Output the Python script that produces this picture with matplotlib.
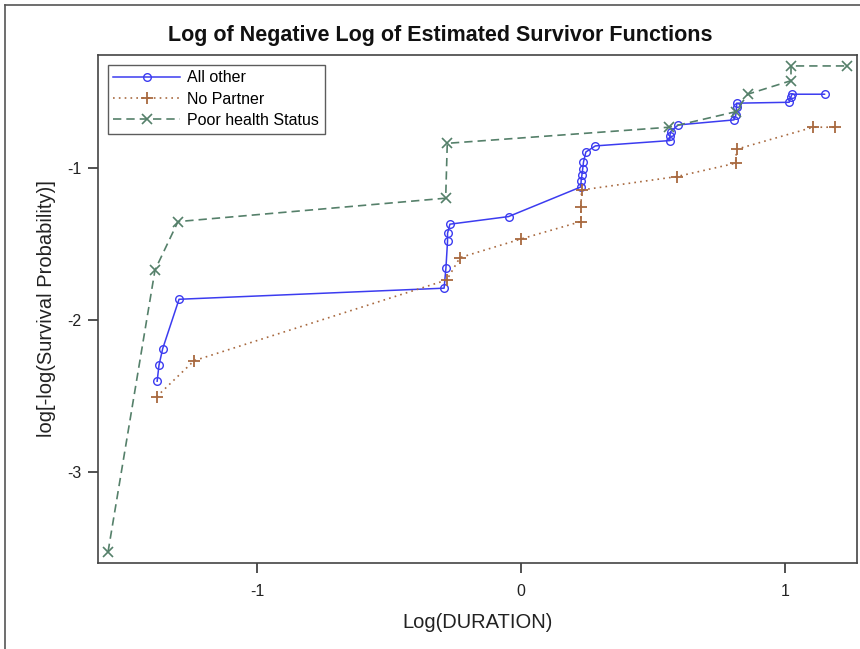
import matplotlib
matplotlib.use("Agg")
import matplotlib.pyplot as plt
from matplotlib.lines import Line2D

plt.rcParams['font.family'] = ['Liberation Sans', 'DejaVu Sans']
plt.rcParams['axes.unicode_minus'] = False

# log(duration) / log(-log(S))
other_x = [-1.378, -1.371, -1.357, -1.295, -0.291, -0.284, -0.278, -0.278, -0.269,
           -0.047, 0.227, 0.228, 0.231, 0.234, 0.237, 0.246, 0.282, 0.564, 0.564,
           0.567, 0.596, 0.807, 0.814, 0.817, 0.817, 1.016, 1.022, 1.027, 1.150]
other_y = [-2.403, -2.298, -2.189, -1.864, -1.791, -1.656, -1.482, -1.430, -1.370,
           -1.320, -1.125, -1.086, -1.046, -1.007, -0.961, -0.895, -0.855, -0.820, -0.789,
           -0.761, -0.717, -0.684, -0.651, -0.597, -0.574, -0.568, -0.535, -0.515, -0.515]

partner_x = [-1.380, -1.238, -0.281, -0.231, 0.001, 0.227, 0.227, 0.230,
             0.590, 0.813, 0.817, 1.107, 1.189]
partner_y = [-2.505, -2.268, -1.737, -1.590, -1.467, -1.353, -1.254, -1.145,
             -1.057, -0.969, -0.877, -0.732, -0.732]

health_x = [-1.564, -1.386, -1.299, -0.285, -0.279, 0.562, 0.814, 0.859, 1.023, 1.023, 1.234]
health_y = [-3.526, -1.671, -1.353, -1.199, -0.838, -0.732, -0.630, -0.515, -0.426, -0.329, -0.329]

blue = '#3c3cf0'
brown = '#a8693f'
green = '#55806a'

fig = plt.figure(figsize=(8.6, 6.49), dpi=100)
ax = fig.add_axes([98/860, 1-563/649, (857-98)/860, (563-55)/649])

ax.plot(other_x, other_y, color=blue, lw=1.1, marker='o', ms=5.5, mfc='none',
        mec=blue, mew=1.0, label='All other')
ax.plot(partner_x, partner_y, color=brown, lw=1.2, ls=(0, (1, 2.5)), marker='+', ms=8,
        mew=1.3, label='No Partner')
ax.plot(health_x, health_y, color=green, lw=1.2, ls=(0, (5, 3)), marker='x', ms=7,
        mew=1.2, label='Poor health Status')

ax.set_xlim(-1.602, 1.273)
ax.set_ylim(-3.599, -0.257)
ax.set_xticks([-1, 0, 1])
ax.set_yticks([-3, -2, -1])
ax.tick_params(direction='out', length=7, width=1.2, labelsize=11.5, colors='#333333',
               labelcolor='#222222', pad=5)
ax.tick_params(axis='x', pad=8)
for s in ax.spines.values():
    s.set_color('#444444')
    s.set_linewidth(1.2)

ax.set_xlabel('Log(DURATION)', fontsize=14.5, labelpad=10, color='#222222')
ax.set_ylabel('log[-log(Survival Probability)]', fontsize=14.5, labelpad=8, color='#222222')

leg = ax.legend(loc='upper left', fontsize=11.5, frameon=True, fancybox=False,
                numpoints=1, borderpad=0.35, labelspacing=0.4, handlelength=4.2,
                handletextpad=0.45, borderaxespad=0.6)
leg.get_frame().set_edgecolor('#333333')
leg.get_frame().set_linewidth(1.0)

fig.text(440/860, 1-35/649, 'Log of Negative Log of Estimated Survivor Functions',
         ha='center', va='center', fontsize=15.5, fontweight='bold', color='#111111')

# outer frame
fig.add_artist(Line2D([5/860, 5/860], [0, 1-5/649], color='#555555', lw=1.2))
fig.add_artist(Line2D([5/860, 1], [1-5/649, 1-5/649], color='#555555', lw=1.2))

fig.savefig('out.png', dpi=100)
